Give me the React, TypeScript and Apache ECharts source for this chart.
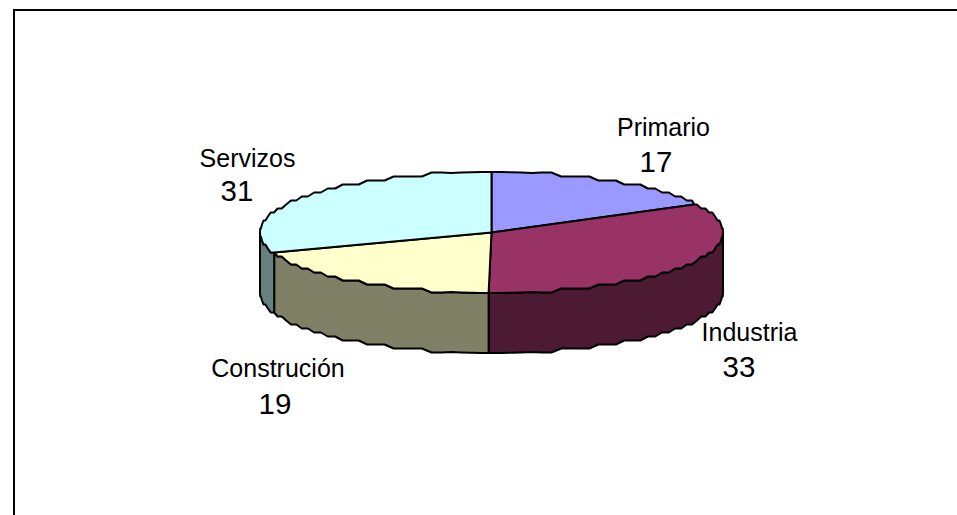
import React, { useEffect, useRef } from "react";
import * as echarts from "echarts";

const categories = ["Primario", "Industria", "Construción", "Servizos"];
const values = [17, 33.2, 19.2, 30.6];
const topColors = ["#9999FF", "#993366", "#FFFFCC", "#CCFFFF"];
const sideColors = ["#4C4C80", "#4D1A33", "#808066", "#668080"];

const W = 957;
const H = 515;
const CX = 491.5;
const CY = 232.5;
const RX = 231.5;
const RY = 60.5;
const DEPTH = 60;
const LABEL_FONT = 25;
const VALUE_FONT = 29.5;
// [name centre x, name baseline, value centre x, value baseline]
const labelAnchors = [
  [663.5, 139, 656, 176],
  [749.5, 344, 739, 381],
  [278, 380, 275, 418],
  [247.5, 170, 237, 205],
];

const total = values.reduce((a, b) => a + b, 0);
const starts: number[] = [];
values.reduce((acc, v, i) => {
  starts[i] = acc;
  return acc + v;
}, 0);

const toAngle = (v: number) => (v / total) * 360;

// The source drawing is a coarse polyline: its ellipse is stepped.
function rimPoint(deg: number, dy = 0): [number, number] {
  const a = (deg * Math.PI) / 180;
  const rawY = -RY * Math.cos(a);
  const stepped = Math.round(rawY / 4) * 4;
  const y = Math.abs(rawY) > RY - 1 ? rawY : stepped;
  return [CX + RX * Math.sin(a), CY + y + dy];
}

function arcPoints(from: number, to: number, dy = 0) {
  const pts: [number, number][] = [];
  const step = 2.5;
  pts.push(rimPoint(from, dy));
  for (let d = Math.ceil(from / step) * step; d < to; d += step) {
    if (d > from) pts.push(rimPoint(d, dy));
  }
  pts.push(rimPoint(to, dy));
  return pts;
}

function renderTop(params: any) {
  const i = params.dataIndex;
  const from = toAngle(starts[i]);
  const to = from + toAngle(values[i]);
  const pts = [[CX, CY], ...arcPoints(from, to)];
  return {
    type: "polygon",
    shape: { points: pts },
    style: { fill: topColors[i], stroke: "#000", lineWidth: 2, lineJoin: "round" },
  };
}

function renderSide(params: any) {
  const i = params.dataIndex;
  const from = Math.max(toAngle(starts[i]), 90);
  const to = Math.min(toAngle(starts[i]) + toAngle(values[i]), 270);
  if (to <= from) return { type: "group", children: [] };
  const pts = [...arcPoints(from, to), ...arcPoints(from, to, DEPTH).reverse()];
  return {
    type: "polygon",
    shape: { points: pts },
    style: { fill: sideColors[i], stroke: "#000", lineWidth: 2, lineJoin: "round" },
  };
}

function renderLabel(params: any) {
  const i = params.dataIndex;
  const [nx, ny, vx, vy] = labelAnchors[i];
  return {
    type: "group",
    children: [
      {
        type: "text",
        style: {
          x: nx,
          y: ny,
          text: categories[i],
          fill: "#000",
          font: `${LABEL_FONT}px "Liberation Sans", Arial, sans-serif`,
          align: "center",
          verticalAlign: "bottom",
        },
      },
      {
        type: "text",
        style: {
          x: vx,
          y: vy,
          text: String(Math.round(values[i])),
          fill: "#000",
          font: `${VALUE_FONT}px "Liberation Sans", Arial, sans-serif`,
          align: "center",
          verticalAlign: "bottom",
        },
      },
    ],
  };
}

export default function App() {
  const ref = useRef<HTMLDivElement>(null);
  useEffect(() => {
    document.body.style.margin = "0";
    const chart = echarts.init(ref.current!, undefined, { renderer: "svg" });
    const data = values.map((v, i) => ({ name: categories[i], value: v }));
    chart.setOption({
      animation: false,
      backgroundColor: "#fff",
      graphic: [
        { type: "rect", shape: { x: 13, y: 9, width: W - 13, height: 2 }, style: { fill: "#000" } },
        { type: "rect", shape: { x: 13, y: 9, width: 2, height: H - 9 }, style: { fill: "#000" } },
      ],
      series: [
        { type: "custom", coordinateSystem: "none", renderItem: renderSide, data, silent: true, z: 1 },
        { type: "custom", coordinateSystem: "none", renderItem: renderTop, data, silent: true, z: 2 },
        { type: "custom", coordinateSystem: "none", renderItem: renderLabel, data, silent: true, z: 3 },
      ],
    });
    return () => chart.dispose();
  }, []);
  return <div ref={ref} style={{ width: W, height: H }} />;
}
